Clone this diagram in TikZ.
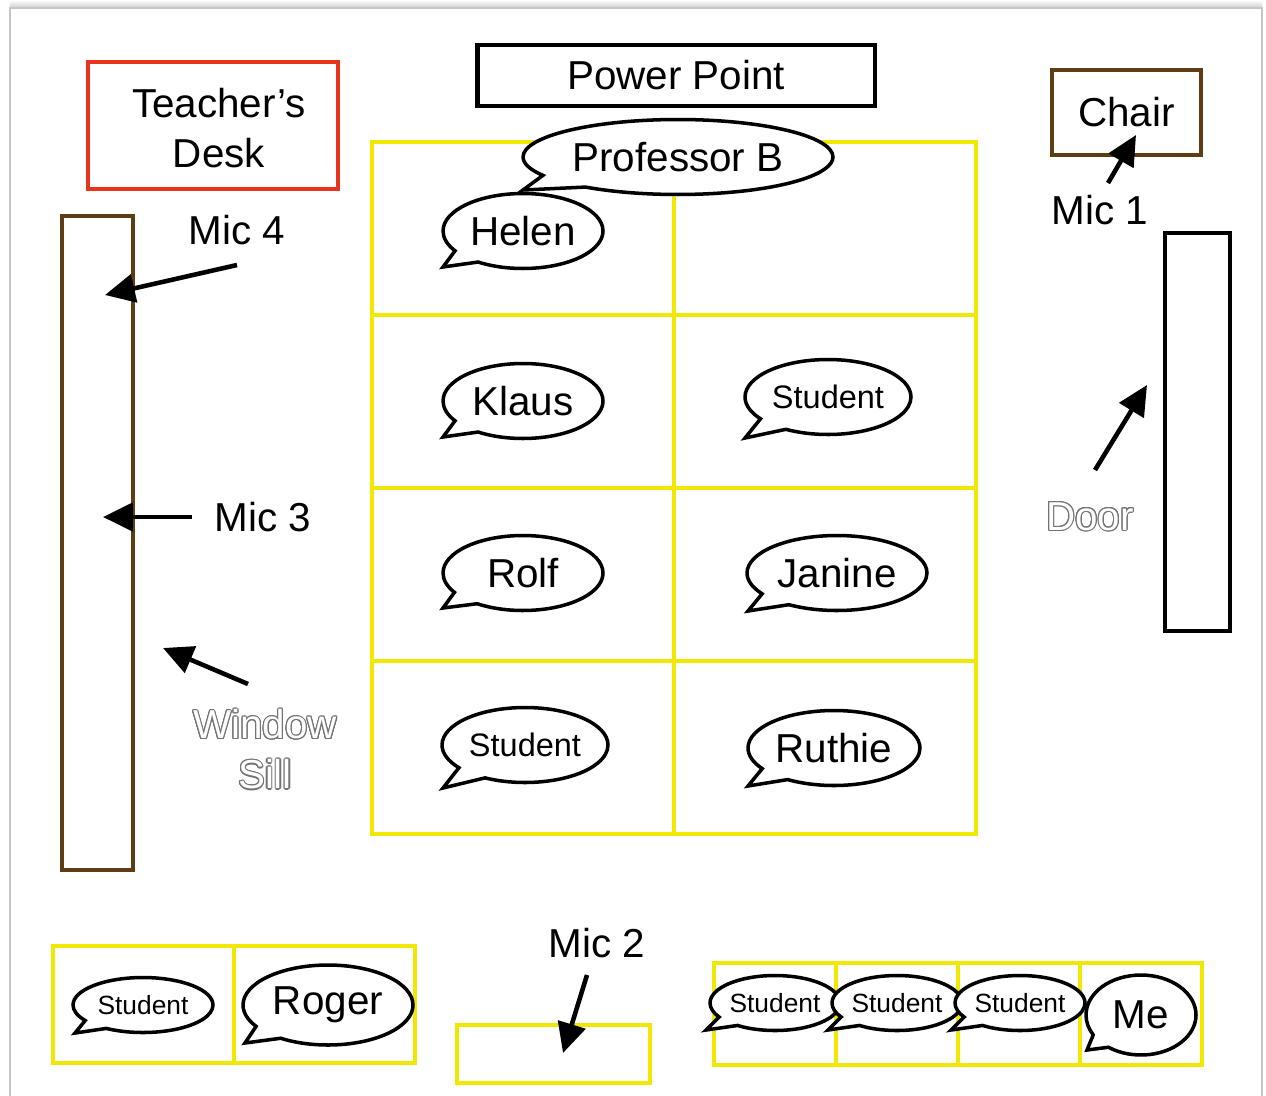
\documentclass[tikz,border=0pt]{standalone}
\usepackage{fontspec}
\setmainfont{Liberation Sans}
\usepackage[copies]{contour}
\usetikzlibrary{arrows.meta,shapes.callouts}

\definecolor{deskred}{RGB}{230,52,30}
\definecolor{woodbrown}{RGB}{94,60,20}
\definecolor{seatyellow}{RGB}{240,232,0}
\newcommand\lblfont{\fontsize{23}{28.5}\selectfont}
\newcommand\seatfont{\fontsize{18.5}{22}\selectfont}
\newcommand\rowfont{\fontsize{15}{18}\selectfont}
\newcommand\hollow[1]{\contour{black!55}{\textcolor{white}{#1}}}
\contourlength{0.6pt}

\begin{document}
\begin{tikzpicture}[x=0.02cm,y=-0.02cm,
  every node/.style={font=\lblfont},
  box/.style={draw,line width=2.4pt,inner sep=0pt,align=center},
  seat/.style={draw=seatyellow,line width=2.6pt},
  bubble/.style={ellipse callout,draw,line width=2pt,fill=white,
                 inner sep=0pt,callout pointer arc=24},
  arr/.style={line width=2.6pt,-{Triangle[length=17pt,width=16pt]}}
]
  \useasboundingbox (0,0) rectangle (1266,1095);
  % sheet
  \shade[top color=white,bottom color=gray!40] (10,0) rectangle (1262,8);
  \draw[gray!45,fill=white,line width=0.8pt] (10,8) rectangle (1262,1110);

  % furniture
  \node[box,draw=deskred,minimum width=5cm,minimum height=2.54cm] (desk) at (213,125.5) {};
  \node[align=center] (desktext) at (219,128) {Teacher’s\\Desk};
  \node[box,line width=2.8pt,minimum width=7.96cm,minimum height=1.22cm] (ppt) at (676,75.5) {Power Point};
  \node[box,draw=woodbrown,minimum width=2.98cm,minimum height=1.7cm] (chair) at (1126.5,112.5) {Chair};
  \node[box,minimum width=1.3cm,minimum height=7.96cm] (doorbox) at (1197.5,432) {};
  \node[box,draw=woodbrown,line width=2.1pt,minimum width=1.42cm,minimum height=13.08cm] (sill) at (97.5,543) {};

  % seats
  \foreach \r in {0,...,3}
    \foreach \c in {0,1}
      \draw[seat] ({372+302*\c},{142+173*\r}) rectangle +(302,173);
  \foreach \c in {0,1}
    \draw[seat] ({53+181*\c},946) rectangle +(181,117);
  \foreach \c in {0,...,3}
    \draw[seat] ({714+122*\c},963) rectangle +(122,102);
  \node[seat,inner sep=0pt,minimum width=3.86cm,minimum height=1.16cm] (mictable) at (553.5,1054) {};

  % labels
  \node (mic1) at (1100,210) {Mic 1};
  \node (mic2) at (597,943) {Mic 2};
  \node (mic3) at (263,517) {Mic 3};
  \node (mic4) at (237,230) {Mic 4};
  \node (door) at (1090,517) {\hollow{Door}};
  \node[align=center] (window) at (265,750) {\hollow{Window}\\\hollow{Sill}};

  % speakers
  \node[bubble,minimum width=6.2cm,minimum height=1.5cm,callout absolute pointer={(523,190)}] (prof) at (678,157) {Professor B};
  \node[bubble,minimum width=3.2cm,minimum height=1.5cm,callout absolute pointer={(443,267)}] (helen) at (523,231) {Helen};
  \node[bubble,minimum width=3.2cm,minimum height=1.5cm,callout absolute pointer={(443,437)}] (klaus) at (523,401) {Klaus};
  \node[bubble,font=\seatfont,minimum width=3.32cm,minimum height=1.5cm,callout absolute pointer={(745,438)}] (stud1) at (828,397) {Student};
  \node[bubble,minimum width=3.2cm,minimum height=1.5cm,callout absolute pointer={(443,608)}] (rolf) at (523,573) {Rolf};
  \node[bubble,minimum width=3.6cm,minimum height=1.5cm,callout absolute pointer={(748,611)}] (janine) at (837,573) {Janine};
  \node[bubble,font=\seatfont,minimum width=3.32cm,minimum height=1.5cm,callout absolute pointer={(443,788)}] (stud2) at (525,745) {Student};
  \node[bubble,minimum width=3.44cm,minimum height=1.5cm,callout absolute pointer={(748,786)}] (ruthie) at (834,748) {Ruthie};
  \node[bubble,font=\rowfont,minimum width=2.8cm,minimum height=1.1cm,callout absolute pointer={(75,1033)}] (stud3) at (143,1005) {Student};
  \node[bubble,minimum width=3.4cm,minimum height=1.6cm,callout absolute pointer={(245,1043)}] (roger) at (328,1005) {Roger};
  \foreach \x/\n in {775/stud4,897/stud5,1020/stud6}
    \node[bubble,font=\rowfont,minimum width=2.6cm,minimum height=1.1cm,callout absolute pointer={(\x-69,1030)}] (\n) at (\x,1003) {Student};
  \node[bubble,minimum width=2.2cm,minimum height=1.6cm,callout absolute pointer={(1087,1050)}] (me) at (1141,1015) {Me};

  % mic arrows
  \coordinate (mic1from) at (1108,183);
  \coordinate (mic1to) at (1136,135);
  \coordinate (mic2from) at (587,975);
  \coordinate (mic2to) at (563,1053);
  \coordinate (mic3from) at (192,517);
  \coordinate (mic3to) at (103,517);
  \coordinate (mic4from) at (237,265);
  \coordinate (mic4to) at (105,295);
  \coordinate (doorfrom) at (1095,470);
  \coordinate (doorto) at (1147,385);
  \coordinate (sillfrom) at (248,684);
  \coordinate (sillto) at (163,648);
  \draw[arr] (mic1from) -- (mic1to);
  \draw[arr] (mic2from) -- (mic2to);
  \draw[arr] (mic3from) -- (mic3to);
  \draw[arr] (mic4from) -- (mic4to);
  \draw[arr] (doorfrom) -- (doorto);
  \draw[arr] (sillfrom) -- (sillto);
\end{tikzpicture}
\end{document}
